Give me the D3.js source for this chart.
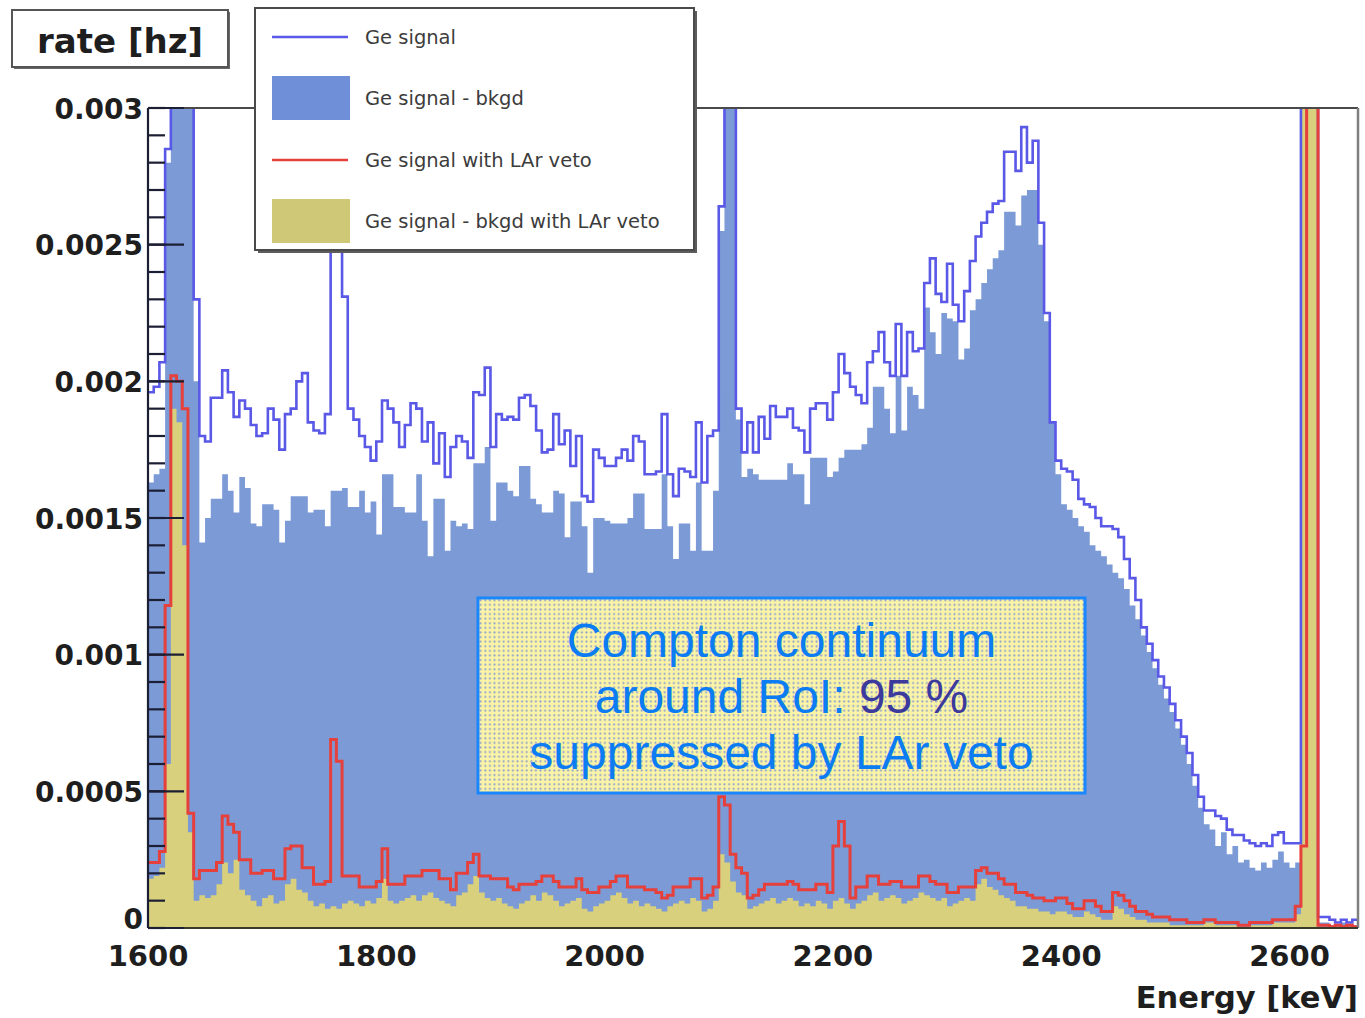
<!DOCTYPE html>
<html>
<head>
<meta charset="utf-8">
<script src="https://cdn.jsdelivr.net/npm/d3@7"></script>
<style>
  html, body { margin: 0; padding: 0; background: #ffffff; }
  svg { display: block; }
</style>
</head>
<body>
<svg id="chart" width="1365" height="1018"></svg>
<script>
// Energy binning of the spectra (keV)
const E_MIN = 1600;
const E_MAX = 2660;
const BIN_WIDTH = 5;
// Rates below are stored in units of 1e-5 Hz per bin
const RATE_UNIT = 1e-5;

// Ge signal
const geSignal = [
  196,198,207,285,520,560,480,330,230,180,
  178,194,194,204,196,187,193,190,184,180,
  181,190,186,175,188,190,200,203,185,182,
  181,188,262,255,231,190,186,180,176,171,
  178,193,190,185,176,184,192,190,178,185,
  170,181,165,176,180,178,172,196,195,205,
  176,188,186,187,186,194,195,191,182,174,
  175,188,177,182,169,180,158,156,175,172,
  169,169,172,175,171,180,178,166,166,167,
  188,166,158,168,167,165,185,163,180,182,
  264,420,360,190,174,185,174,187,179,191,
  187,187,190,183,182,174,190,192,192,186,
  196,210,203,198,195,192,207,211,218,207,
  202,221,202,218,211,212,236,245,232,229,
  243,228,222,233,244,253,258,262,265,266,
  284,284,277,293,280,288,258,225,185,171,
  168,167,164,157,155,154,150,147,147,146,
  143,135,128,120,110,104,98,92,88,82,
  76,70,64,56,48,43,43,41,40,36,
  34,34,32,31,30,31,30,34,35,31,
  31,31,600,900,400,4,4,3,2,3,
  2,3
];

// Ge signal - bkgd
const geSignalMinusBkgd = [
  163,166,168,280,480,520,440,320,200,141,
  150,157,157,166,160,152,165,161,148,147,
  155,155,153,141,149,158,158,158,152,153,
  153,147,160,160,161,154,154,160,152,156,
  144,166,166,154,154,152,152,166,149,136,
  157,157,138,149,147,148,146,170,170,176,
  149,163,163,160,158,169,169,157,155,152,
  152,160,159,143,156,156,147,130,150,150,
  149,148,148,148,150,159,159,146,146,146,
  166,147,135,148,148,138,163,138,138,160,
  255,400,350,186,165,168,166,164,164,164,
  164,164,170,166,166,155,172,172,172,165,
  167,172,175,175,175,177,183,198,198,190,
  181,202,182,198,195,190,227,218,210,225,
  223,222,208,212,226,230,236,241,245,248,
  262,262,257,268,270,270,250,222,185,166,
  155,153,150,147,145,140,138,136,133,130,
  128,124,118,113,107,101,95,89,84,79,
  73,67,60,52,44,38,36,30,35,27,
  30,24,25,22,21,24,22,25,28,24,
  22,24,500,800,380,2,2,1,1,2,
  1,1
];

// Ge signal with LAr veto
const geSignalVeto = [
  24,24,28,118,202,200,190,42,18,21,
  21,21,24,41,38,35,25,25,20,20,
  21,21,18,18,29,30,30,22,22,16,
  16,17,69,61,19,19,19,15,15,15,
  17,29,16,16,16,19,19,19,21,21,
  21,18,18,14,20,20,24,27,19,19,
  18,18,18,15,14,16,16,16,17,19,
  19,17,15,15,15,18,14,13,13,15,
  15,17,19,19,15,15,15,14,14,13,
  11,12,15,15,15,18,18,11,12,15,
  48,45,27,22,20,11,12,14,16,16,
  16,16,17,16,14,14,14,16,16,13,
  30,39,30,11,15,15,19,19,16,16,
  17,17,15,15,15,19,19,17,16,16,
  13,13,15,15,15,21,22,20,20,18,
  16,16,13,13,12,11,11,10,10,11,
  11,9,7,7,10,10,8,6,6,13,
  12,10,8,6,6,5,4,4,4,3,
  3,3,2,2,2,3,3,2,2,2,
  2,1,1,2,2,2,2,3,3,3,
  3,8,30,800,700,1,1,0.5,1,0.5,
  1,0.5
];

// Ge signal - bkgd with LAr veto
const geSignalMinusBkgdVeto = [
  18,19,22,60,190,185,140,35,10,12,
  11,12,16,24,20,25,14,12,10,8,
  11,12,9,10,16,18,14,13,10,8,
  9,7,8,7,9,10,9,8,10,9,
  11,18,10,9,10,11,12,10,12,13,
  11,10,9,8,12,13,16,19,13,11,
  10,11,9,8,7,9,10,12,10,13,
  12,10,8,9,10,11,7,6,8,9,
  10,12,13,11,9,10,8,9,8,7,
  6,8,9,10,9,11,10,6,7,10,
  27,24,17,13,12,7,8,9,10,11,
  9,10,11,10,8,9,8,10,9,7,
  10,11,9,7,9,10,12,13,10,11,
  12,11,9,10,11,13,12,11,10,11,
  8,9,10,11,10,16,18,15,14,12,
  11,10,8,8,7,7,6,6,5,6,
  6,5,4,4,6,5,4,3,3,8,
  7,5,4,3,3,2,2,2,2,1,
  1,1,1,1,1,2,2,1,1,1,
  1,0.5,0.5,1,1,1,1,2,2,2,
  2,5,480,780,500,0.5,0.5,0.3,0.5,0.3,
  0.5,0.3
];

// Axis ticks and labels
const xTickValues = [1600, 1800, 2000, 2200, 2400, 2600];
const yTickValues = [0, 0.0005, 0.001, 0.0015, 0.002, 0.0025, 0.003];
const yTickLabels = ["0", "0.0005", "0.001", "0.0015", "0.002", "0.0025", "0.003"];
const yMinorStep = 0.0001;

const legendLabels = [
  "Ge signal",
  "Ge signal - bkgd",
  "Ge signal with LAr veto",
  "Ge signal - bkgd with LAr veto"
];
const noteLines = ["Compton continuum", "around RoI: ", "suppressed by LAr veto"];
const noteHighlight = "95 %";

// ---- colours and frame geometry
const COL = {
  line: "#5a58e6",
  fill: "#7b9ad6",
  veto: "#e6403c",
  vetoFill: "#d8d07c",
  axis: "#1c1f33",
  text: "#1e1e1e"
};
const frame = { left: 148, right: 1358, top: 108, bottom: 928 };

const svg = d3.select("#chart");
const defs = svg.append("defs");

defs.append("clipPath").attr("id", "plotClip")
  .append("rect")
  .attr("x", frame.left).attr("y", frame.top)
  .attr("width", frame.right - frame.left)
  .attr("height", frame.bottom - frame.top + 2);

// dotted fill of the annotation box
const pat = defs.append("pattern").attr("id", "dots")
  .attr("patternUnits", "userSpaceOnUse").attr("width", 4.6).attr("height", 4.6);
pat.append("rect").attr("width", 4.6).attr("height", 4.6).attr("fill", "#fbf4a6");
pat.append("circle").attr("cx", 2.3).attr("cy", 2.3).attr("r", 1.05).attr("fill", "#8c9fcf");

const x = d3.scaleLinear().domain([E_MIN, E_MAX]).range([frame.left, frame.right]);
const y = d3.scaleLinear().domain([0, 0.003]).range([frame.bottom, frame.top]);

// turn a per-bin array into step points (bin low edge, rate) plus closing edge
function histPoints(values) {
  const pts = values.map((v, i) => [E_MIN + i * BIN_WIDTH, v * RATE_UNIT]);
  pts.push([E_MIN + values.length * BIN_WIDTH, values[values.length - 1] * RATE_UNIT]);
  return pts;
}

const stepLine = d3.line()
  .x(d => x(d[0])).y(d => y(d[1]))
  .curve(d3.curveStepAfter);
const stepArea = d3.area()
  .x(d => x(d[0])).y0(y(0)).y1(d => y(d[1]))
  .curve(d3.curveStepAfter);

const plot = svg.append("g").attr("clip-path", "url(#plotClip)");

plot.append("path").datum(histPoints(geSignalMinusBkgd))
  .attr("d", stepArea).attr("fill", COL.fill);
plot.append("path").datum(histPoints(geSignalMinusBkgdVeto))
  .attr("d", stepArea).attr("fill", COL.vetoFill);
plot.append("path").datum(histPoints(geSignal))
  .attr("d", stepLine).attr("fill", "none")
  .attr("stroke", COL.line).attr("stroke-width", 2.6).attr("stroke-linejoin", "miter");
plot.append("path").datum(histPoints(geSignalVeto))
  .attr("d", stepLine).attr("fill", "none")
  .attr("stroke", COL.veto).attr("stroke-width", 3).attr("stroke-linejoin", "miter");

// ---- frame
svg.append("line")
  .attr("x1", frame.left).attr("x2", frame.right)
  .attr("y1", frame.top).attr("y2", frame.top)
  .attr("stroke", "#4a4a4a").attr("stroke-width", 2);
svg.append("line")
  .attr("x1", frame.right).attr("x2", frame.right)
  .attr("y1", frame.top).attr("y2", frame.bottom)
  .attr("stroke", "#808080").attr("stroke-width", 2.5);
svg.append("line")
  .attr("x1", frame.left).attr("x2", frame.right)
  .attr("y1", frame.bottom).attr("y2", frame.bottom)
  .attr("stroke", "#3a3a2a").attr("stroke-width", 2);

// ---- y axis with major and minor ticks
const yAxis = svg.append("g");
yAxis.append("line")
  .attr("x1", frame.left).attr("x2", frame.left)
  .attr("y1", frame.top).attr("y2", frame.bottom)
  .attr("stroke", COL.axis).attr("stroke-width", 2.2);
const minorTicks = d3.range(0, Math.round(0.003 / yMinorStep) + 1).map(k => k * yMinorStep);
yAxis.selectAll(".minor").data(minorTicks).join("line")
  .attr("x1", frame.left).attr("x2", frame.left + 17)
  .attr("y1", d => y(d)).attr("y2", d => y(d))
  .attr("stroke", COL.axis).attr("stroke-width", 2.2);
yAxis.selectAll(".major").data(yTickValues).join("line")
  .attr("x1", frame.left).attr("x2", frame.left + 36)
  .attr("y1", d => y(d)).attr("y2", d => y(d))
  .attr("stroke", COL.axis).attr("stroke-width", 2.2);
// the zero label sits a little higher so it clears the first energy label
yAxis.selectAll("text").data(yTickValues).join("text")
  .attr("x", frame.left - 5)
  .attr("y", d => d === 0 ? y(d) + 1 : y(d) + 10.5)
  .attr("text-anchor", "end")
  .attr("font-family", "DejaVu Sans")
  .attr("font-weight", "bold")
  .attr("font-size", 28)
  .attr("fill", COL.text)
  .text((d, i) => yTickLabels[i]);

// ---- x axis labels
svg.append("g").selectAll("text").data(xTickValues).join("text")
  .attr("x", d => x(d))
  .attr("y", 966)
  .attr("text-anchor", "middle")
  .attr("font-family", "DejaVu Sans")
  .attr("font-weight", "bold")
  .attr("font-size", 29)
  .attr("fill", COL.text)
  .text(d => d);

svg.append("text")
  .attr("x", frame.right).attr("y", 1008)
  .attr("text-anchor", "end")
  .attr("font-family", "DejaVu Sans")
  .attr("font-weight", "bold")
  .attr("font-size", 30.5)
  .attr("fill", COL.text)
  .text("Energy [keV]");

// ---- title box
const tb = { x: 12, y: 10, w: 216, h: 57 };
svg.append("rect").attr("x", tb.x + 2).attr("y", tb.y + 2).attr("width", tb.w).attr("height", tb.h)
  .attr("fill", "#6a6a6a");
svg.append("rect").attr("x", tb.x).attr("y", tb.y).attr("width", tb.w).attr("height", tb.h)
  .attr("fill", "#ffffff").attr("stroke", "#555555").attr("stroke-width", 2);
svg.append("text")
  .attr("x", tb.x + tb.w / 2).attr("y", 53)
  .attr("text-anchor", "middle")
  .attr("font-family", "DejaVu Sans").attr("font-weight", "bold")
  .attr("font-size", 34).attr("fill", COL.text)
  .text("rate [hz]");

// ---- legend
const lg = { x: 255, y: 8, w: 439, h: 242 };
svg.append("rect").attr("x", lg.x + 3).attr("y", lg.y + 3).attr("width", lg.w).attr("height", lg.h)
  .attr("fill", "#5c5c5c");
svg.append("rect").attr("x", lg.x).attr("y", lg.y).attr("width", lg.w).attr("height", lg.h)
  .attr("fill", "#ffffff").attr("stroke", "#4a4a4a").attr("stroke-width", 2);

const legendRows = [37, 98, 160, 221];
const legendKinds = [
  { type: "line", color: COL.line },
  { type: "box", color: "#6f8fd8" },
  { type: "line", color: COL.veto },
  { type: "box", color: "#cfc877" }
];
const lgG = svg.append("g");
legendKinds.forEach((k, i) => {
  const cy = legendRows[i];
  if (k.type === "line") {
    lgG.append("line").attr("x1", 272).attr("x2", 348).attr("y1", cy).attr("y2", cy)
      .attr("stroke", k.color).attr("stroke-width", 2.6);
  } else {
    lgG.append("rect").attr("x", 272).attr("y", cy - 22).attr("width", 78).attr("height", 44)
      .attr("fill", k.color);
  }
});
lgG.selectAll("text").data(legendLabels).join("text")
  .attr("x", 365)
  .attr("y", (d, i) => legendRows[i] + 7)
  .attr("font-family", "DejaVu Sans")
  .attr("font-size", 19.5)
  .attr("fill", "#3c3c3c")
  .text(d => d);

// ---- annotation box
const nb = { x: 478, y: 598, w: 607, h: 195 };
svg.append("rect").attr("x", nb.x).attr("y", nb.y).attr("width", nb.w).attr("height", nb.h)
  .attr("fill", "url(#dots)").attr("stroke", "#1a86ff").attr("stroke-width", 3);
const noteG = svg.append("g")
  .attr("font-family", "Liberation Sans, Arial, sans-serif")
  .attr("font-size", 48)
  .attr("text-anchor", "middle")
  .attr("fill", "#0c7cf2");
const cx = nb.x + nb.w / 2;
noteG.append("text").attr("x", cx).attr("y", 657).text(noteLines[0]);
const l2 = noteG.append("text").attr("x", cx).attr("y", 713);
l2.append("tspan").text(noteLines[1]);
l2.append("tspan").attr("fill", "#3d3a9e").text(noteHighlight);
noteG.append("text").attr("x", cx).attr("y", 769).text(noteLines[2]);
</script>
</body>
</html>
